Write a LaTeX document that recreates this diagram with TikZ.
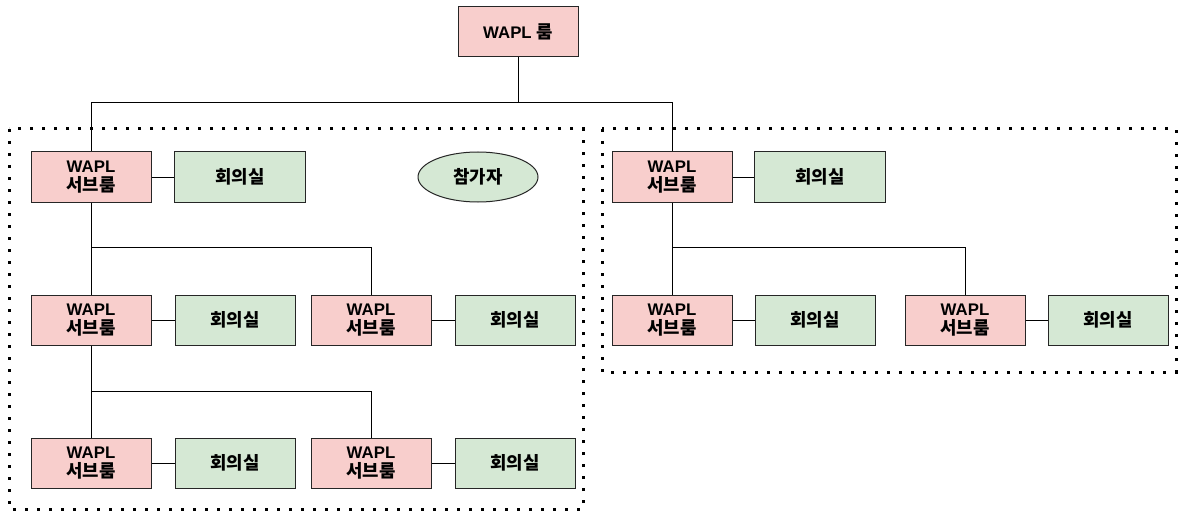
\documentclass[tikz,border=0pt]{standalone}
\usepackage{fontspec}
\setmainfont{Liberation Sans}
\newfontfamily\kr[Scale=1.06]{Noto Sans CJK KR}
\usetikzlibrary{shapes.geometric}
\definecolor{pinkf}{HTML}{F8CECC}
\definecolor{greenf}{HTML}{D5E8D4}
\tikzset{
  base/.style={draw=black!85, line width=1pt, inner sep=0pt, align=center,
    font=\fontsize{16.8}{19}\selectfont\bfseries},
  room/.style={base, fill=pinkf, minimum width=120pt, minimum height=50pt},
  meet/.style={base, fill=greenf, minimum height=50pt},
  oval/.style={base, ellipse, fill=greenf, minimum width=120pt, minimum height=50pt},
  conn/.style={line width=1pt, black},
  grp/.style={line width=3pt, dash pattern=on 3pt off 9pt, black}
}
\begin{document}
\begin{tikzpicture}[x=1pt,y=-1pt]
\useasboundingbox (0,0) rectangle (1186,516);
% groups
\draw[grp] (9,129) rectangle (583,509);
\draw[grp] (602,129) rectangle (1176,372);
% top
\node[room] (top) at (518,31.5) {WAPL {\kr 룸}};
% left tree
\node[room] (l1) at (91,177) {WAPL\\{\kr 서브룸}};
\node[meet, minimum width=131pt] (l1m) at (240,177) {\kr 회의실};
\node[oval] (p) at (478,177) {\kr 참가자};
\node[room] (l2) at (91,320) {WAPL\\{\kr 서브룸}};
\node[meet, minimum width=120pt] (l2m) at (235,320) {\kr 회의실};
\node[room] (l3) at (371,320) {WAPL\\{\kr 서브룸}};
\node[meet, minimum width=120pt] (l3m) at (515,320) {\kr 회의실};
\node[room] (l4) at (91,463) {WAPL\\{\kr 서브룸}};
\node[meet, minimum width=120pt] (l4m) at (235,463) {\kr 회의실};
\node[room] (l5) at (371,463) {WAPL\\{\kr 서브룸}};
\node[meet, minimum width=120pt] (l5m) at (515,463) {\kr 회의실};
% right tree
\node[room] (r1) at (672,177) {WAPL\\{\kr 서브룸}};
\node[meet, minimum width=131pt] (r1m) at (820,177) {\kr 회의실};
\node[room] (r2) at (672,320) {WAPL\\{\kr 서브룸}};
\node[meet, minimum width=120pt] (r2m) at (815,320) {\kr 회의실};
\node[room] (r3) at (965,320) {WAPL\\{\kr 서브룸}};
\node[meet, minimum width=120pt] (r3m) at (1108,320) {\kr 회의실};
% connectors
\coordinate (tj) at (518,103);
\draw[conn] (top.south) -- (tj) -| (l1.north);
\draw[conn] (tj) -| (r1.north);
\draw[conn] (l1.south) -- (l2.north);
\draw[conn] (l1.south) |- (91,247) -| (l3.north);
\draw[conn] (l2.south) -- (l4.north);
\draw[conn] (l2.south) |- (91,391) -| (l5.north);
\draw[conn] (r1.south) -- (r2.north);
\draw[conn] (r1.south) |- (672,247) -| (r3.north);
\foreach \a/\b in {l1/l1m,l2/l2m,l3/l3m,l4/l4m,l5/l5m,r1/r1m,r2/r2m,r3/r3m}
  \draw[conn] (\a.east) -- (\b.west);
\end{tikzpicture}
\end{document}
